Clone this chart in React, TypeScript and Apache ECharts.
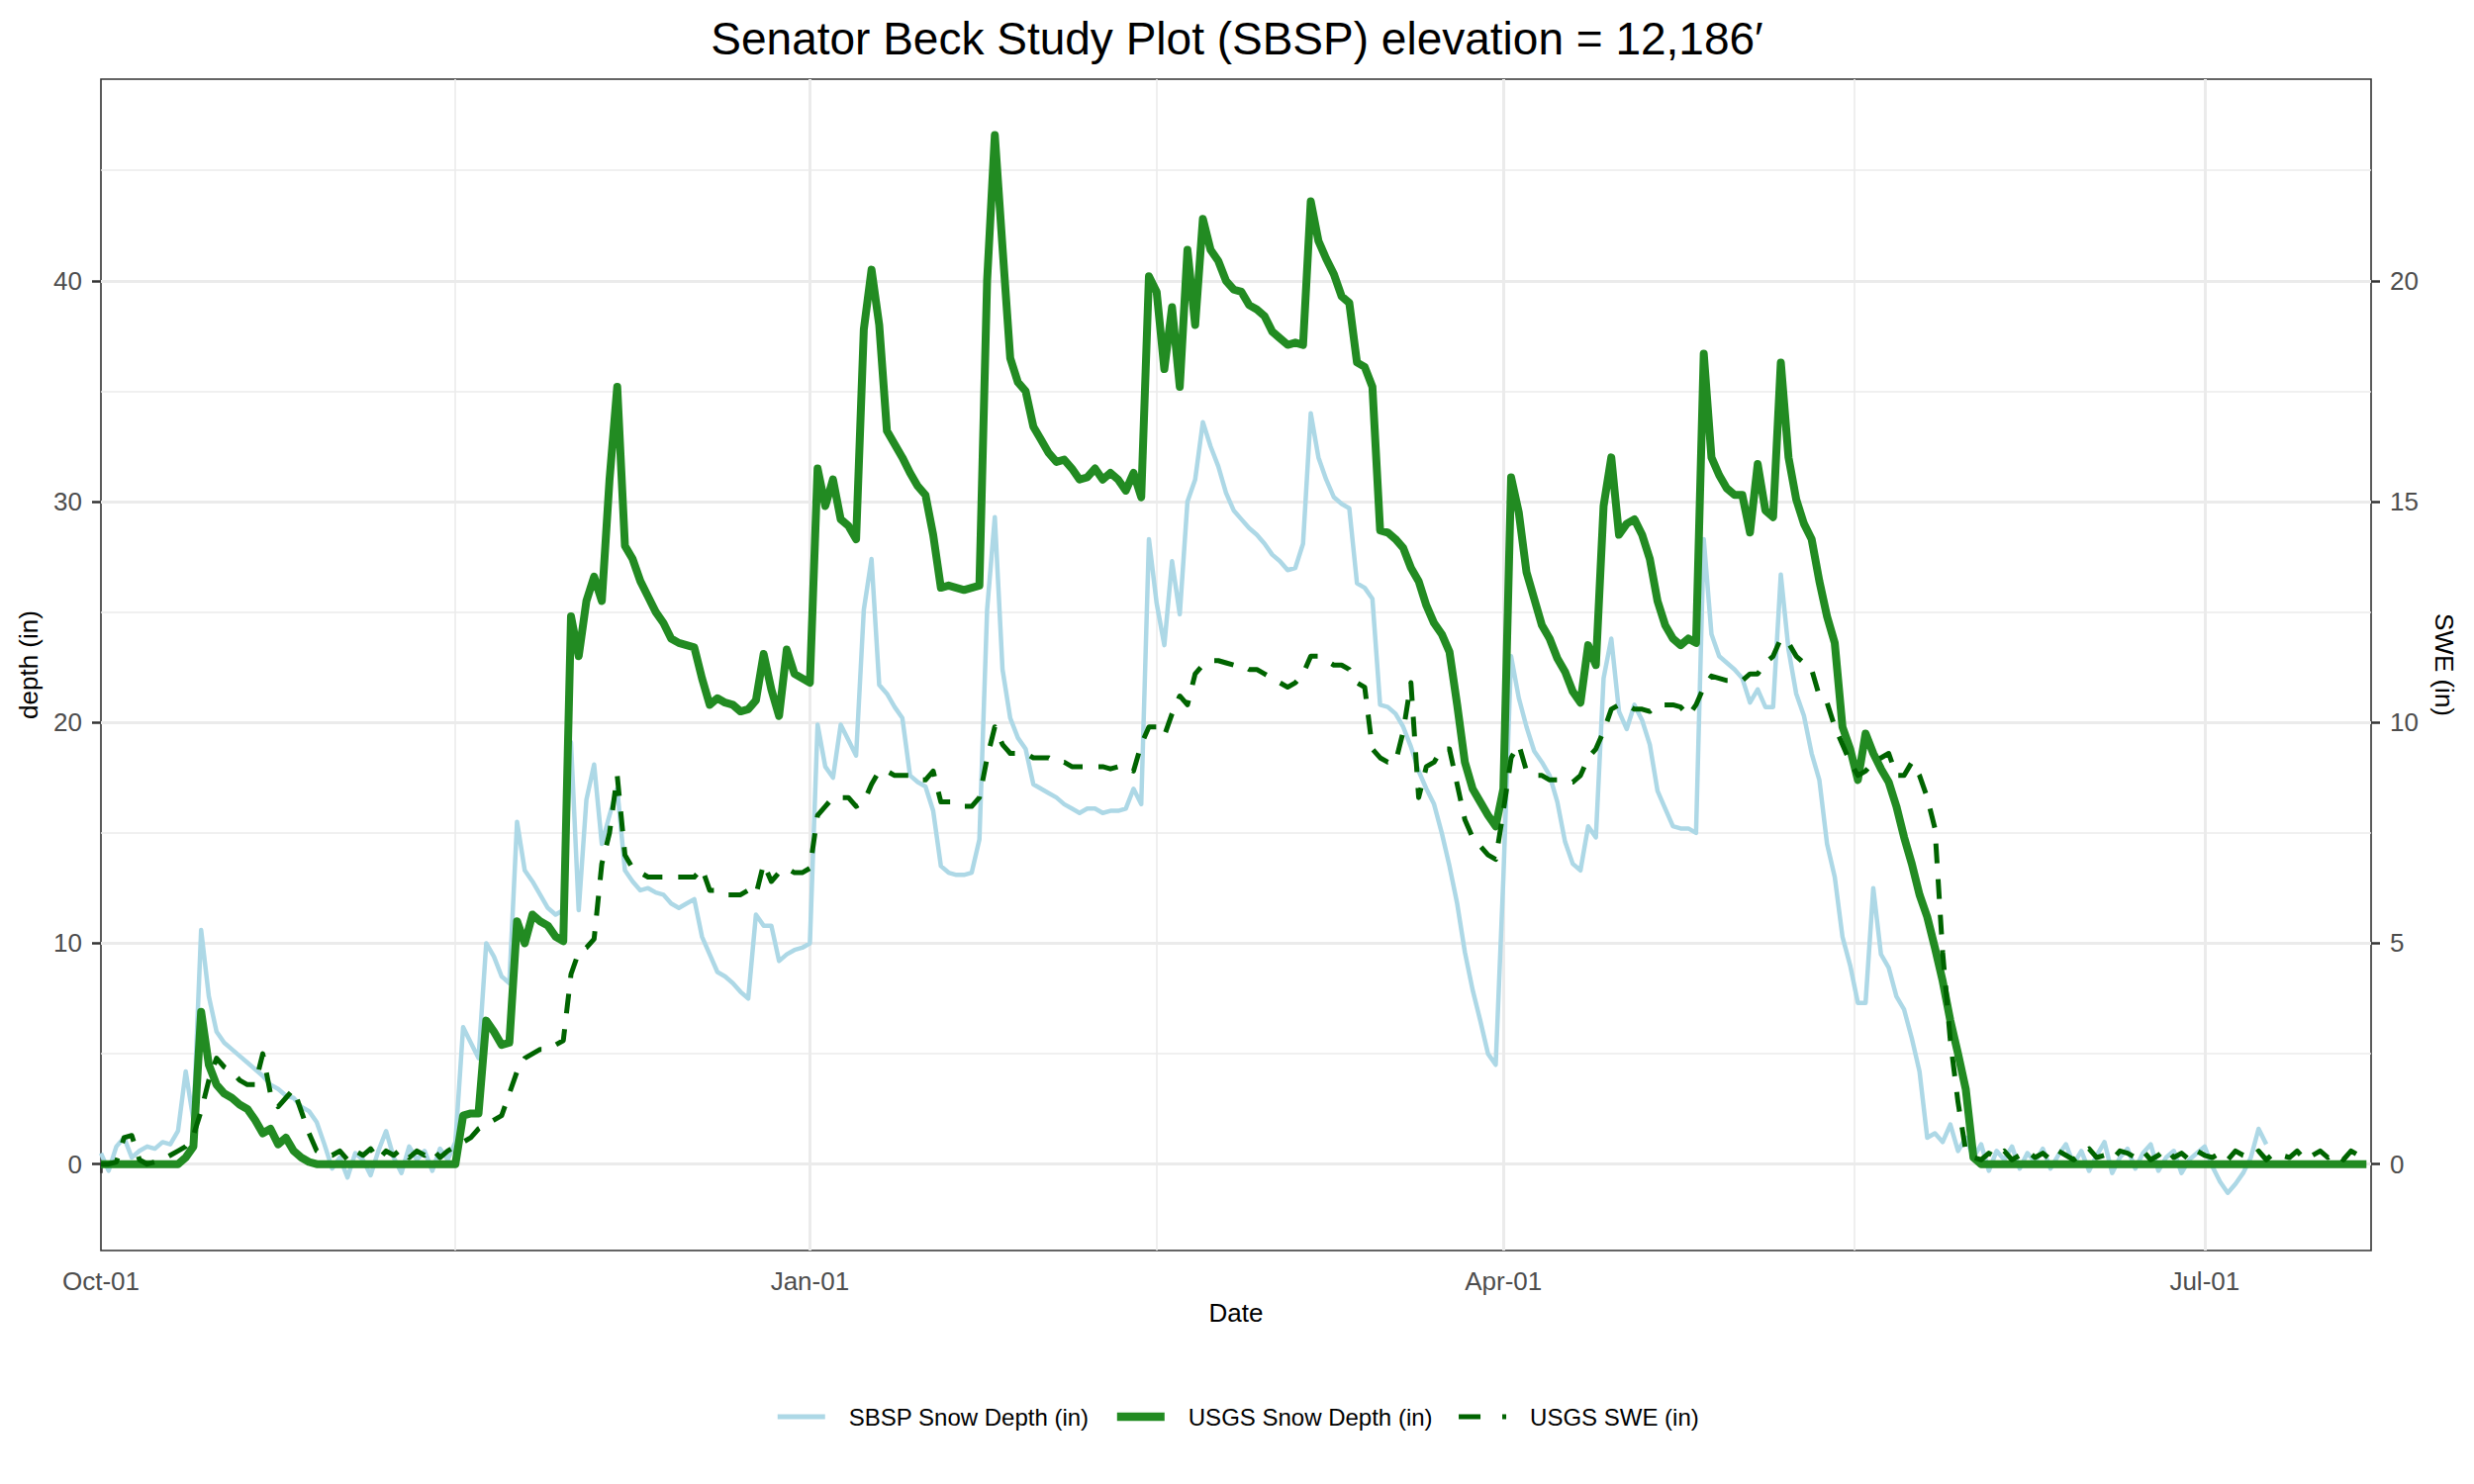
import React, { useEffect, useRef } from "react";
import * as echarts from "echarts";

// Daily values, day 0 = Oct-01
const sbspDepth: (number | null)[] = [
  0.5, -0.3, 0.8, 1.2, 0.3, 0.6, 0.8, 0.7, 1.0, 0.9,
  1.5, 4.2, 2.0, 10.6, 7.6, 6.0, 5.5, 5.2, 4.9, 4.6,
  4.3, 4.0, 3.6, 3.4, 3.1, 3.0, 2.6, 2.4, 1.9, 0.9,
  -0.2, 0.3, -0.6, 0.5, 0.2, -0.5, 0.6, 1.5, 0.3, -0.4,
  0.8, 0.2, 0.6, -0.3, 0.7, 0.2, 1.0, 6.2, 5.5, 4.8,
  10.0, 9.4, 8.5, 8.2, 15.5, 13.3, 12.8, 12.2, 11.6, 11.3,
  11.5, 19.1, 11.5, 16.5, 18.1, 14.5, 15.8, 17.0, 13.3, 12.8,
  12.4, 12.5, 12.3, 12.2, 11.8, 11.6, 11.8, 12.0, 10.3, 9.5,
  8.7, 8.5, 8.2, 7.8, 7.5, 11.3, 10.8, 10.8, 9.2, 9.5,
  9.7, 9.8, 10.0, 19.9, 18.0, 17.5, 19.9, 19.2, 18.5, 25.1,
  27.4, 21.7, 21.3, 20.7, 20.2, 17.6, 17.3, 17.1, 16.0, 13.5,
  13.2, 13.1, 13.1, 13.2, 14.7, 25.1, 29.3, 22.4, 20.2, 19.3,
  18.8, 17.2, 17.0, 16.8, 16.6, 16.3, 16.1, 15.9, 16.1, 16.1,
  15.9, 16.0, 16.0, 16.1, 17.0, 16.3, 28.3, 25.4, 23.5, 27.3,
  24.9, 30.0, 31.0, 33.6, 32.5, 31.6, 30.4, 29.6, 29.2, 28.8,
  28.5, 28.1, 27.6, 27.3, 26.9, 27.0, 28.1, 34.0, 32.0, 31.0,
  30.2, 29.9, 29.7, 26.3, 26.1, 25.6, 20.8, 20.7, 20.4, 19.8,
  18.9, 17.8, 17.0, 16.3, 15.0, 13.5, 11.8, 9.6, 7.9, 6.5,
  5.0, 4.5, 13.0, 23.0, 21.1, 19.8, 18.7, 18.2, 17.6, 16.4,
  14.6, 13.6, 13.3, 15.3, 14.8, 22.0, 23.8, 20.5, 19.7, 20.8,
  20.1, 19.0, 16.9, 16.1, 15.3, 15.2, 15.2, 15.0, 28.3, 24.0,
  23.0, 22.7, 22.4, 22.0, 20.9, 21.5, 20.7, 20.7, 26.7, 23.3,
  21.3, 20.3, 18.6, 17.4, 14.5, 13.0, 10.3, 9.0, 7.3, 7.3,
  12.5, 9.5, 8.9, 7.6, 7.0, 5.7, 4.2, 1.2, 1.4, 1.0,
  1.8, 0.6, 1.2, 0.3, 0.9, -0.3, 0.6, 0.2, 0.8, -0.2,
  0.5, 0.1, 0.7, -0.2, 0.4, 0.9, 0.0, 0.6, -0.3, 0.4,
  1.0, -0.4, 0.3, 0.7, -0.2, 0.5, 0.9, -0.3, 0.3, 0.6,
  -0.4, 0.2, 0.5, 0.8, -0.1, -0.8, -1.3, -0.9, -0.4, 0.3,
  1.6, 0.9, null, null, null, null, null, null, null, null,
  null, null, null, null, null,
];

const usgsDepth: number[] = [
  0, 0, 0, 0, 0, 0, 0, 0, 0, 0,
  0, 0.3, 0.8, 6.9, 4.5, 3.6, 3.2, 3.0, 2.7, 2.5,
  2.0, 1.4, 1.6, 0.9, 1.2, 0.6, 0.3, 0.1, 0, 0,
  0, 0, 0, 0, 0, 0, 0, 0, 0, 0,
  0, 0, 0, 0, 0, 0, 0, 2.2, 2.3, 2.3,
  6.5, 6.0, 5.4, 5.5, 11.0, 10.0, 11.3, 11.0, 10.8, 10.3,
  10.1, 24.8, 23.0, 25.5, 26.6, 25.5, 31.0, 35.2, 28.0, 27.4,
  26.4, 25.7, 25.0, 24.5, 23.8, 23.6, 23.5, 23.4, 22.0, 20.8,
  21.1, 20.9, 20.8, 20.5, 20.6, 21.0, 23.1, 21.5, 20.3, 23.3,
  22.2, 22.0, 21.8, 31.5, 29.8, 31.0, 29.2, 28.9, 28.3, 37.8,
  40.5, 38.0, 33.2, 32.6, 32.0, 31.3, 30.7, 30.3, 28.5, 26.1,
  26.2, 26.1, 26.0, 26.1, 26.2, 40.0, 46.6, 41.5, 36.5, 35.4,
  35.0, 33.4, 32.8, 32.2, 31.8, 31.9, 31.5, 31.0, 31.1, 31.5,
  31.0, 31.3, 31.0, 30.5, 31.3, 30.2, 40.2, 39.5, 36.0, 38.8,
  35.2, 41.4, 38.0, 42.8, 41.4, 40.9, 40.0, 39.6, 39.5, 38.9,
  38.7, 38.4, 37.7, 37.4, 37.1, 37.2, 37.1, 43.6, 41.8, 41.0,
  40.3, 39.3, 39.0, 36.3, 36.1, 35.2, 28.7, 28.6, 28.3, 27.9,
  27.0, 26.4, 25.3, 24.5, 24.0, 23.2, 20.8, 18.2, 17.0, 16.4,
  15.8, 15.3, 17.0, 31.1, 29.5, 26.8, 25.6, 24.4, 23.8, 22.9,
  22.3, 21.4, 20.9, 23.5, 22.6, 29.8, 32.0, 28.5, 29.0, 29.2,
  28.5, 27.4, 25.5, 24.4, 23.8, 23.5, 23.8, 23.6, 36.7, 32.0,
  31.2, 30.6, 30.3, 30.3, 28.6, 31.7, 29.6, 29.3, 36.3, 32.0,
  30.1, 29.0, 28.3, 26.4, 24.8, 23.6, 19.8, 18.8, 17.4, 19.5,
  18.6, 17.9, 17.3, 16.2, 14.8, 13.6, 12.2, 11.2, 9.8, 8.3,
  6.5, 5.0, 3.4, 0.3, 0, 0, 0, 0, 0, 0,
  0, 0, 0, 0, 0, 0, 0, 0, 0, 0,
  0, 0, 0, 0, 0, 0, 0, 0, 0, 0,
  0, 0, 0, 0, 0, 0, 0, 0, 0, 0,
  0, 0, 0, 0, 0, 0, 0, 0, 0, 0,
  0, 0, 0, 0, 0,
];

const usgsSwe: number[] = [
  0, 0, 0.05, 0.6, 0.65, 0.1, 0, 0.05, 0.1, 0.2,
  0.3, 0.4, 0.65, 1.2, 1.9, 2.4, 2.2, 2.1, 1.9, 1.8,
  1.8, 2.5, 1.6, 1.3, 1.5, 1.7, 1.2, 0.7, 0.3, 0.2,
  0.2, 0.3, 0.1, 0.3, 0.2, 0.35, 0.1, 0.3, 0.2, 0.35,
  0.15, 0.3, 0.2, 0.35, 0.15, 0.3, 0.4, 0.5, 0.6, 0.8,
  0.9, 1.0, 1.1, 1.6, 2.1, 2.4, 2.5, 2.6, 2.6, 2.7,
  2.8, 4.3, 4.8, 4.9, 5.1, 6.8, 7.5, 8.8, 7.0, 6.7,
  6.6, 6.5, 6.5, 6.5, 6.5, 6.5, 6.5, 6.5, 6.7, 6.2,
  6.2, 6.1, 6.1, 6.1, 6.2, 6.1, 6.8, 6.4, 6.6, 6.7,
  6.6, 6.6, 6.7, 7.9, 8.1, 8.3, 8.3, 8.3, 8.1, 8.2,
  8.6, 8.9, 8.9, 8.8, 8.8, 8.8, 8.7, 8.7, 8.9, 8.2,
  8.2, 8.2, 8.1, 8.1, 8.3, 9.2, 9.9, 9.5, 9.3, 9.3,
  9.3, 9.2, 9.2, 9.2, 9.1, 9.1, 9.0, 9.0, 9.0, 9.0,
  9.0, 8.95, 9.0, 9.0, 8.9, 9.5, 9.9, 9.9, 9.7, 10.2,
  10.6, 10.4, 11.1, 11.3, 11.4, 11.4, 11.35, 11.3, 11.3, 11.2,
  11.2, 11.1, 11.0, 10.9, 10.8, 10.9, 11.1, 11.5, 11.5, 11.4,
  11.3, 11.3, 11.2, 10.9, 10.8, 9.4, 9.2, 9.1, 9.1, 9.8,
  10.9, 8.3, 9.0, 9.1, 9.4, 9.4, 8.6, 7.8, 7.4, 7.2,
  7.0, 6.9, 8.0, 9.2, 9.5, 8.9, 8.8, 8.8, 8.7, 8.7,
  8.65, 8.65, 8.8, 9.2, 9.4, 9.8, 10.3, 10.4, 10.4, 10.3,
  10.3, 10.25, 10.4, 10.4, 10.4, 10.35, 10.15, 10.4, 10.8, 11.05,
  11.0, 10.95, 10.95, 10.95, 11.1, 11.1, 11.35, 11.5, 11.9, 11.8,
  11.5, 11.35, 11.2, 10.6, 10.45, 9.9, 9.5, 9.1, 8.8, 8.9,
  9.1, 9.2, 9.3, 8.8, 8.8, 9.1, 8.8, 8.3, 7.6, 4.8,
  2.8, 1.4, 0.3, 0.15, 0.1, 0.25, 0.15, 0.3, 0.1, 0.2,
  0.3, 0.15, 0.25, 0.1, 0.3, 0.2, 0.1, 0.25, 0.35, 0.15,
  0.2, 0.1, 0.3, 0.25, 0.15, 0.3, 0.1, 0.2, 0.35, 0.15,
  0.25, 0.1, 0.3, 0.2, 0.15, 0.25, 0.1, 0.3, 0.2, 0.15,
  0.3, 0.1, 0.25, 0.2, 0.15, 0.3, 0.1, 0.2, 0.3, 0.15,
  0.25, 0.1, 0.3, 0.2, 0.25,
];

const dateTickDays = [0, 92, 182, 273];
const dateTickLabels = ["Oct-01", "Jan-01", "Apr-01", "Jul-01"];
const dateMinorDays = [46, 137, 227.5];
const depthTicks = [0, 10, 20, 30, 40];
const depthMinor = [5, 15, 25, 35, 45];
const sweTicks = [0, 5, 10, 15, 20];

const FONT = "'Liberation Sans', Arial, Helvetica, sans-serif";

export default function App() {
  const ref = useRef<HTMLDivElement>(null);

  useEffect(() => {
    document.body.style.margin = "0";
    const chart = echarts.init(ref.current!, null, { renderer: "svg" });
    const toXY = (arr: (number | null)[]) => arr.map((v, i) => [i, v]);

    const gridLines: any[] = [
      ...dateTickDays.slice(1).map((d) => ({ xAxis: d, lineStyle: { width: 3 } })),
      ...dateMinorDays.map((d) => ({ xAxis: d, lineStyle: { width: 1.6 } })),
      ...depthTicks.map((v) => ({ yAxis: v, lineStyle: { width: 3 } })),
      ...depthMinor.map((v) => ({ yAxis: v, lineStyle: { width: 1.6 } })),
    ];

    const tickStyle = { show: true, inside: false, length: 9, lineStyle: { color: "#333333", width: 2.5 } };
    const labelStyle = { fontSize: 26, color: "#4D4D4D", fontFamily: FONT };
    const nameStyle = { fontSize: 26, color: "#000000", fontFamily: FONT };

    chart.setOption({
      animation: false,
      backgroundColor: "#ffffff",
      title: {
        text: "Senator Beck Study Plot (SBSP) elevation = 12,186\u2032",
        left: "center",
        top: 11,
        textStyle: { fontSize: 46, fontWeight: "normal", color: "#000000", fontFamily: FONT },
      },
      legend: {
        bottom: 51,
        left: "center",
        itemWidth: 48,
        itemHeight: 24,
        itemGap: 24,
        itemStyle: { opacity: 0, borderWidth: 0 },
        textStyle: { fontSize: 24, color: "#000000", fontFamily: FONT, padding: [0, 0, 0, 19] },
        data: [
          { name: "SBSP Snow Depth (in)", itemStyle: { opacity: 0 }, lineStyle: { width: 5, type: "solid" } },
          { name: "USGS Snow Depth (in)", itemStyle: { opacity: 0 }, lineStyle: { width: 8.5, type: "solid" } },
          { name: "USGS SWE (in)", itemStyle: { opacity: 0 }, lineStyle: { width: 5, type: [22, 22] } },
        ],
      },
      grid: {
        left: 102,
        right: 104,
        top: 80,
        bottom: 236,
        show: true,
        borderColor: "#333333",
        borderWidth: 1.6,
        backgroundColor: "transparent",
        containLabel: false,
      },
      xAxis: {
        type: "value",
        min: 0,
        max: 294.6,
        name: "Date",
        nameLocation: "middle",
        nameGap: 50,
        nameTextStyle: nameStyle,
        axisLine: { show: false },
        splitLine: { show: false },
        axisTick: { ...tickStyle, customValues: dateTickDays },
        axisLabel: {
          ...labelStyle,
          margin: 18,
          customValues: dateTickDays,
          formatter: (v: number) => {
            const i = dateTickDays.indexOf(Math.round(v));
            return i >= 0 ? dateTickLabels[i] : "";
          },
        },
      },
      yAxis: [
        {
          type: "value",
          min: -3.91,
          max: 49.13,
          position: "left",
          name: "depth (in)",
          nameLocation: "middle",
          nameGap: 60,
          nameRotate: 90,
          nameTextStyle: nameStyle,
          axisLine: { show: false },
          splitLine: { show: false },
          axisTick: { ...tickStyle, customValues: depthTicks },
          axisLabel: { ...labelStyle, margin: 19, customValues: depthTicks, formatter: (v: number) => String(v) },
        },
        {
          type: "value",
          min: -1.955,
          max: 24.565,
          position: "right",
          name: "SWE (in)",
          nameLocation: "middle",
          nameGap: 61,
          nameRotate: -90,
          nameTextStyle: nameStyle,
          axisLine: { show: false },
          splitLine: { show: false },
          axisTick: { ...tickStyle, customValues: sweTicks },
          axisLabel: { ...labelStyle, margin: 19, customValues: sweTicks, formatter: (v: number) => String(v) },
        },
      ],
      series: [
        {
          name: "SBSP Snow Depth (in)",
          type: "line",
          xAxisIndex: 0,
          yAxisIndex: 0,
          data: toXY(sbspDepth),
          showSymbol: false,
          symbol: "none",
          connectNulls: false,
          z: 2,
          lineStyle: { color: "#ADD8E6", width: 4.5, join: "round" },
          itemStyle: { color: "#ADD8E6" },
          markLine: {
            silent: true,
            z: 1,
            symbol: ["none", "none"],
            label: { show: false },
            emphasis: { disabled: true },
            lineStyle: { color: "#EBEBEB", type: "solid", width: 3 },
            data: gridLines,
          },
        },
        {
          name: "USGS Snow Depth (in)",
          type: "line",
          xAxisIndex: 0,
          yAxisIndex: 0,
          data: toXY(usgsDepth),
          showSymbol: false,
          symbol: "none",
          z: 3,
          lineStyle: { color: "#228B22", width: 8, join: "round" },
          itemStyle: { color: "#228B22" },
        },
        {
          name: "USGS SWE (in)",
          type: "line",
          xAxisIndex: 0,
          yAxisIndex: 1,
          data: toXY(usgsSwe),
          showSymbol: false,
          symbol: "none",
          z: 4,
          lineStyle: { color: "#006400", width: 5, type: [20, 16], join: "round" },
          itemStyle: { color: "#006400" },
        },
      ],
    });

    return () => chart.dispose();
  }, []);

  return <div ref={ref} style={{ width: 2500, height: 1500 }} />;
}
